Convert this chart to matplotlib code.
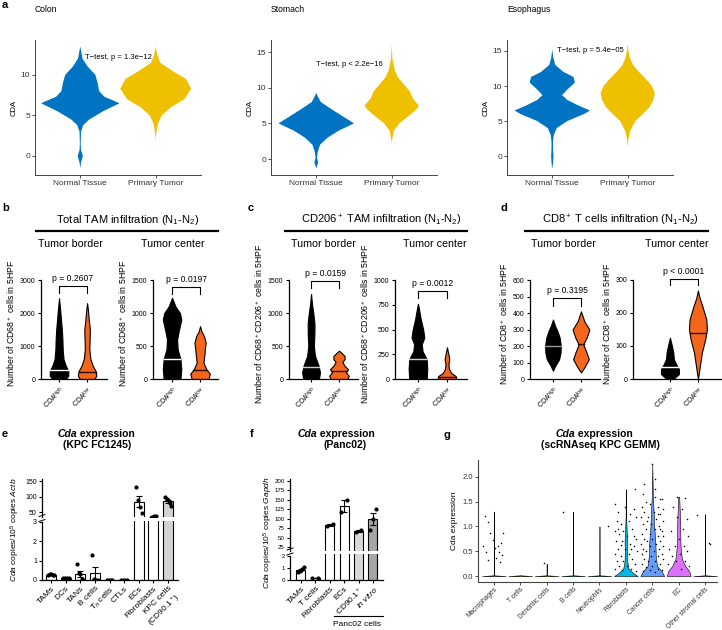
import numpy as np
import matplotlib.pyplot as plt

plt.rcParams['font.family'] = ['Liberation Sans', 'DejaVu Sans']
plt.rcParams['mathtext.fontset'] = 'custom'
plt.rcParams['mathtext.rm'] = 'Liberation Sans'
plt.rcParams['mathtext.it'] = 'Liberation Sans:italic'
plt.rcParams['mathtext.bf'] = 'Liberation Sans:bold'

# ---------------- panel a: violin profiles (y level, half width) ----------------
a_groups = ['Normal Tissue', 'Primary Tumor']
colon_n_y = [-1.5, -0.8, 0, 0.7, 1.5, 3, 3.8, 4.5, 5.5, 6.5, 7.3, 8, 9, 10, 11, 12, 13.5]
colon_n_w = [0, 0.01, 0.035, 0.01, 0.005, 0.01, 0.04, 0.12, 0.3, 0.52, 0.32, 0.25, 0.23, 0.2, 0.1, 0.03, 0]
colon_t_y = [2, 3, 4, 5, 6, 7, 8.3, 9.5, 10.5, 11.5, 12.5, 13.5]
colon_t_w = [0, 0.01, 0.03, 0.08, 0.2, 0.38, 0.47, 0.4, 0.22, 0.06, 0.02, 0]
stom_n_y = [-1.3, -0.5, 0.2, 1, 2, 3, 4, 5, 6, 7, 8, 9, 9.3]
stom_n_w = [0, 0.025, 0.01, 0.02, 0.05, 0.15, 0.3, 0.5, 0.35, 0.2, 0.06, 0.01, 0]
stom_t_y = [2.2, 3, 4, 5, 6, 7, 7.5, 8.5, 9.5, 10.5, 11.5, 12.5, 14, 16]
stom_t_w = [0, 0.01, 0.03, 0.1, 0.22, 0.33, 0.36, 0.28, 0.24, 0.16, 0.08, 0.04, 0.01, 0]
eso_n_y = [-1.8, -1, 0, 1, 2, 3, 4, 5, 6, 6.5, 7.2, 8, 8.7, 9.5, 10.5, 11.3, 12, 13, 14, 15.2]
eso_n_w = [0, 0.01, 0.015, 0.01, 0.01, 0.02, 0.06, 0.2, 0.42, 0.5, 0.35, 0.2, 0.13, 0.2, 0.3, 0.28, 0.15, 0.04, 0.015, 0]
eso_t_y = [1.3, 2.5, 3.5, 5, 6, 7, 8, 9, 10, 11, 12, 13, 14, 15, 16]
eso_t_w = [0, 0.01, 0.03, 0.1, 0.2, 0.29, 0.34, 0.36, 0.32, 0.24, 0.15, 0.07, 0.03, 0.01, 0]
a_titles = ['Colon', 'Stomach', 'Esophagus']
a_pvals = ['T\u2212test, p = 1.3e\u221212', 'T\u2212test, p < 2.2e\u221216', 'T\u2212test, p = 5.4e\u221205']

# ---------------- panels b-d: GraphPad violins ----------------
bd_groups = ['CDA$^{high}$', 'CDA$^{low}$']
b1_hi_y = [0, 100, 250, 400, 600, 900, 1200, 1500, 1800, 2100, 2450]
b1_hi_w = [0.24, 0.33, 0.33, 0.24, 0.16, 0.13, 0.12, 0.1, 0.07, 0.04, 0]
b1_lo_y = [0, 100, 250, 400, 600, 900, 1200, 1500, 1800, 2100, 2300]
b1_lo_w = [0.26, 0.33, 0.3, 0.2, 0.12, 0.08, 0.09, 0.1, 0.06, 0.03, 0]
b1_med = [270, 220]
b2_hi_y = [0, 150, 300, 450, 600, 750, 900, 1000, 1100, 1230]
b2_hi_w = [0.3, 0.33, 0.3, 0.2, 0.18, 0.25, 0.33, 0.28, 0.12, 0]
b2_lo_y = [0, 80, 150, 250, 350, 450, 550, 650, 720, 800]
b2_lo_w = [0.3, 0.35, 0.22, 0.12, 0.15, 0.17, 0.2, 0.14, 0.05, 0]
b2_med = [300, 130]
c1_hi_y = [0, 100, 200, 350, 500, 700, 850, 1000, 1150, 1290]
c1_hi_w = [0.28, 0.32, 0.27, 0.14, 0.1, 0.12, 0.12, 0.08, 0.03, 0]
c1_lo_y = [0, 50, 100, 150, 200, 260, 300, 350, 400, 430]
c1_lo_w = [0.3, 0.35, 0.25, 0.32, 0.2, 0.12, 0.2, 0.2, 0.08, 0]
c1_med = [180, 120]
c2_hi_y = [0, 100, 200, 280, 350, 420, 500, 600, 700, 760]
c2_hi_w = [0.3, 0.32, 0.3, 0.16, 0.13, 0.22, 0.18, 0.1, 0.04, 0]
c2_lo_y = [0, 30, 60, 100, 150, 200, 250, 320]
c2_lo_w = [0.32, 0.3, 0.15, 0.07, 0.05, 0.08, 0.05, 0]
c2_med = [200, 25]
d1_hi_y = [50, 80, 120, 160, 200, 250, 290, 320, 360]
d1_hi_w = [0, 0.08, 0.22, 0.27, 0.28, 0.24, 0.16, 0.08, 0]
d1_lo_y = [40, 70, 120, 160, 210, 250, 300, 350, 410]
d1_lo_w = [0, 0.12, 0.28, 0.2, 0.08, 0.2, 0.3, 0.12, 0]
d1_med = [200, 215]
d2_hi_y = [0, 15, 30, 45, 60, 80, 100, 125]
d2_hi_w = [0.12, 0.32, 0.32, 0.22, 0.14, 0.12, 0.07, 0]
d2_lo_y = [0, 40, 80, 120, 150, 180, 220, 245, 268]
d2_lo_w = [0, 0.07, 0.14, 0.26, 0.32, 0.3, 0.16, 0.06, 0]
d2_med = [35, 138]
bd_pvals = ['p = 0.2607', 'p = 0.0197', 'p = 0.0159', 'p = 0.0012', 'p = 0.3195', 'p < 0.0001']

# ---------------- panel e ----------------
e_cats = ['TAMs', 'DCs', 'TANs', 'B cells', 'T$_h$ cells', 'CTLs', 'ECs', 'Fibroblasts',
          'KPC cells\n(CD90.1$^+$)']
e_pts = [[0.25, 0.3, 0.3, 0.28, 0.25], [0.12, 0.12, 0.12, 0.12], [0.85, 0.35, 0.3, 0.05, 0.02],
         [1.3, 0.05, 0.02, 0.02], [0.02, 0.02, 0.02, 0.02], [0.02, 0.02, 0.02, 0.02],
         [132, 90, 65, 48], [32, 35, 37, 36], [97, 92, 88, 80, 70]]
e_colors = ['white'] * 8 + ['#d3d3d3']

# ---------------- panel f ----------------
f_cats = ['TAMs', 'T cells', 'Fibroblasts', 'ECs', 'CD90.1$^+$', r'$\it{in\ vitro}$']
f_pts = [[0.7, 0.75, 0.85, 0.95, 1.1], [0.2, 0.2], [80, 87], [117, 150], [66, 70], [70, 100, 125]]
f_colors = ['white', 'white', 'white', 'white', '#d9d9d9', '#a6a6a6']

# ---------------- panel g ----------------
g_cats = ['Macrophages', 'T cells', 'Dendritic cells', 'B cells', 'Neutrophils', 'Fibroblasts',
          'Cancer cells', 'EC', 'Other stromal cells']
g_colors = ['#F8766D', '#D39200', '#93AA00', '#00BA38', '#00C19F', '#00B9E3', '#619CFF', '#DB72FB', '#FF61C3']
g_prof_y = [[0, 0.015, 0.05, 1.3], [0, 0.015, 0.02], [0, 0.015, 0.05, 0.25], [0, 0.015, 0.05, 1.3],
            [0, 0.015, 0.05, 1.0], [0, 0.05, 0.15, 0.3, 0.5, 0.7, 0.9, 1.2, 1.75],
            [0, 0.1, 0.2, 0.4, 0.6, 0.8, 1.0, 1.3, 1.6, 2.25],
            [0, 0.1, 0.2, 0.35, 0.6, 0.8, 1.0, 1.3, 1.6, 1.6], [0, 0.015, 0.05, 1.25]]
g_prof_w = [[0.45, 0.01, 0.004, 0], [0.45, 0.01, 0], [0.45, 0.01, 0.004, 0], [0.45, 0.01, 0.004, 0],
            [0.45, 0.01, 0.004, 0], [0.45, 0.3, 0.1, 0.05, 0.04, 0.05, 0.03, 0.01, 0],
            [0.45, 0.35, 0.18, 0.13, 0.12, 0.1, 0.07, 0.05, 0.02, 0],
            [0.45, 0.4, 0.25, 0.12, 0.07, 0.06, 0.06, 0.04, 0.02, 0], [0.45, 0.01, 0.004, 0]]
mac_pts = [(-0.35, 1.21), (-0.23, 1.08), (-0.13, 0.86), (-0.41, 0.6), (-0.31, 0.49), (-0.23, 0.32),
           (-0.04, 0.73), (0.04, 0.56), (0.15, 0.6), (0.21, 0.49), (0.28, 0.66), (0.31, 0.42),
           (0.36, 0.86), (0.09, 0.36), (0.24, 0.29)]
dc_pts = [(-0.09, 0.26)]
bc_pts = [(-0.38, 1.3)]
neu_pts = [(0.31, 1.0)]
fib_pts = [(-0.4, 1.45), (-0.3, 1.3), (0.35, 1.75), (0.3, 1.35), (-0.35, 1.1), (-0.2, 1.05), (0.1, 1.1),
           (0.4, 1.2), (-0.42, 0.9), (-0.25, 0.85), (-0.1, 0.9), (0.05, 0.8), (0.22, 0.95), (0.38, 0.75),
           (-0.38, 0.7), (-0.15, 0.7), (0.15, 0.65), (0.3, 0.6), (-0.3, 0.55), (-0.05, 0.55), (0.42, 0.5),
           (-0.42, 0.45), (-0.2, 0.4), (0.1, 0.45), (0.25, 0.35), (-0.35, 0.3), (-0.1, 0.3), (0.35, 0.25),
           (-0.25, 0.2), (0.05, 0.2), (0.2, 0.15), (-0.4, 0.15), (0.4, 0.1), (-0.15, 0.12), (0.3, 0.8),
           (-0.3, 0.95), (0.15, 1.25), (-0.05, 1.4), (0.2, 0.55), (-0.2, 0.62)]
can_pts = [(0.0, 2.25), (0.1, 1.95), (-0.35, 1.65), (0.3, 1.55), (0.38, 1.55), (-0.25, 1.5), (0.1, 1.6),
           (-0.4, 1.4), (-0.1, 1.45), (0.2, 1.4), (0.42, 1.35), (-0.3, 1.3), (0.05, 1.3), (0.3, 1.25),
           (-0.42, 1.2), (-0.15, 1.2), (0.15, 1.15), (0.4, 1.1), (-0.35, 1.05), (-0.05, 1.05), (0.25, 1.0),
           (-0.25, 0.95), (0.1, 0.95), (0.35, 0.9), (-0.4, 0.85), (-0.1, 0.85), (0.2, 0.8), (0.42, 0.8),
           (-0.3, 0.75), (0.0, 0.75), (0.3, 0.7), (-0.2, 0.7), (-0.42, 0.65), (0.15, 0.65), (0.4, 0.6),
           (-0.1, 0.6), (-0.35, 0.55), (0.25, 0.55), (0.05, 0.5), (-0.25, 0.5), (0.35, 0.45), (-0.4, 0.45),
           (-0.05, 0.4), (0.2, 0.4), (-0.3, 0.35), (0.42, 0.35), (0.1, 0.3), (-0.15, 0.3), (0.3, 0.25),
           (-0.4, 0.25), (0.0, 0.2), (-0.25, 0.18), (0.2, 0.15), (0.38, 0.12), (-0.35, 0.1), (0.1, 0.08),
           (-0.1, 0.12), (0.28, 0.95), (-0.2, 1.1), (0.12, 1.75), (-0.32, 1.85), (0.22, 1.25)]
ec_pts = [(-0.2, 1.4), (0.12, 1.35), (0.3, 1.15), (-0.05, 1.2), (0.15, 0.95), (-0.3, 0.9), (0.35, 0.8),
          (0.0, 0.75), (-0.15, 0.6), (0.2, 0.6), (-0.35, 0.55), (0.3, 0.5), (0.05, 0.45), (-0.25, 0.4),
          (0.25, 0.3), (-0.1, 0.3), (0.4, 0.2), (-0.4, 0.25), (0.1, 0.15), (-0.05, 1.6), (0.25, 1.58)]
oth_pts = [(-0.31, 1.23), (0.13, 0.66), (0.2, 0.65)]

W, H = 722, 630
fig = plt.figure(figsize=(W / 100, H / 100), dpi=100)


def px_ax(x0, y0, x1, y1):
    return fig.add_axes([x0 / W, 1 - y1 / H, (x1 - x0) / W, (y1 - y0) / H])


def ftext(x, y, s, **kw):
    fig.text(x / W, 1 - y / H, s, **kw)


def fline(xs, ys, lw=1.5):
    fig.add_artist(plt.Line2D([x / W for x in xs], [1 - y / H for y in ys], color='black', lw=lw))


def violin(ax, pos, ys, ws, color, edge='none', lw=0.0):
    ys = np.asarray(ys, float)
    ws = np.asarray(ws, float)
    ax.fill_betweenx(ys, pos - ws, pos + ws, facecolor=color, edgecolor=edge, lw=lw, zorder=2)


# ---------------- panel a ----------------
a_boxes = [(35, 201), (271, 437), (507, 673)]
a_ylims = [(-2.35, 14.3), (-2.24, 16.7), (-2.71, 16.57)]
a_yticks = [[0, 5, 10], [0, 5, 10, 15], [0, 5, 10, 15]]
a_ptxt = [(1.5, 12.2), (1.44, 13.2), (1.5, 15.1)]
a_profiles = [(colon_n_y, colon_n_w, colon_t_y, colon_t_w), (stom_n_y, stom_n_w, stom_t_y, stom_t_w),
              (eso_n_y, eso_n_w, eso_t_y, eso_t_w)]
for i in range(3):
    x0, x1 = a_boxes[i]
    ax = px_ax(x0, 40, x1, 175)
    ny, nw, ty, tw = a_profiles[i]
    violin(ax, 1, ny, nw, '#0073C2')
    violin(ax, 2, ty, tw, '#EFC000')
    ax.set_xlim(0.4, 2.6)
    ax.set_ylim(*a_ylims[i])
    ax.set_xticks([1, 2])
    ax.set_xticklabels(a_groups, fontsize=6, color='#333333')
    ax.set_yticks(a_yticks[i])
    ax.tick_params(labelsize=6, length=2, width=0.6, colors='#333333', pad=1.5)
    for s in ['top', 'right']:
        ax.spines[s].set_visible(False)
    for s in ['left', 'bottom']:
        ax.spines[s].set_color('#444444')
        ax.spines[s].set_linewidth(0.7)
    ax.set_ylabel('CDA', fontsize=5.5, labelpad=2)
    ax.text(a_ptxt[i][0], a_ptxt[i][1], a_pvals[i], ha='center', va='center', fontsize=5.5)
    ftext(x0, 10, a_titles[i], fontsize=6.2, va='center')
ftext(2, 5, 'a', fontsize=8, fontweight='bold', va='center')

# ---------------- panels b-d ----------------
bd_axes = [(41, 107, 0.357, 2.71, 3364, [0, 1000, 2000, 3000]),
           (153, 218, 0.32, 2.64, 1682, [0, 500, 1000, 1500]),
           (289, 358, 0.21, 2.68, 1684, [0, 500, 1000, 1500]),
           (395, 467, 0.21, 2.69, 1122, [0, 250, 500, 750, 1000]),
           (530, 600, 0.18, 2.68, 673, [0, 100, 200, 300, 400, 500, 600]),
           (633, 722, -0.32, 2.86, 336, [0, 100, 200, 300])]
bd_prof = [(b1_hi_y, b1_hi_w, b1_lo_y, b1_lo_w, b1_med), (b2_hi_y, b2_hi_w, b2_lo_y, b2_lo_w, b2_med),
           (c1_hi_y, c1_hi_w, c1_lo_y, c1_lo_w, c1_med), (c2_hi_y, c2_hi_w, c2_lo_y, c2_lo_w, c2_med),
           (d1_hi_y, d1_hi_w, d1_lo_y, d1_lo_w, d1_med), (d2_hi_y, d2_hi_w, d2_lo_y, d2_lo_w, d2_med)]
bd_brackets = [(2818, 2606), (1394, 1288), (1484, 1378), (888, 816), (491, 442), (303, 285)]
bd_medcol = ['white', 'white', '#cfcfcf', '#cfcfcf', '#9a9a9a', 'white']
bd_ylabels = ['Number of CD68$^+$ cells in 5HPF'] * 2 + ['Number of CD68$^+$CD206$^+$ cells in 5HPF'] * 2 + \
             ['Number of CD8$^+$ cells in 5HPF'] * 2
for i in range(6):
    x0, x1, xl0, xl1, ytop, yt = bd_axes[i]
    ax = px_ax(x0, 268, x1, 379)
    hy, hw, ly, lw_, med = bd_prof[i]
    violin(ax, 1, hy, hw, 'black', 'black', 0.8)
    violin(ax, 2, ly, lw_, '#F4661B', 'black', 0.8)
    mw = np.interp(med[0], hy, hw)
    ax.plot([1 - mw, 1 + mw], [med[0], med[0]], color=bd_medcol[i], lw=1.0, zorder=3)
    mw = np.interp(med[1], ly, lw_)
    ax.plot([2 - mw, 2 + mw], [med[1], med[1]], color='#2a0a00', lw=1.0, zorder=3)
    ax.set_xlim(xl0, xl1)
    ax.set_ylim(0, ytop)
    ax.set_yticks(yt)
    ax.spines['left'].set_bounds(0, yt[-1])
    for s in ['top', 'right']:
        ax.spines[s].set_visible(False)
    for s in ['left', 'bottom']:
        ax.spines[s].set_linewidth(0.9)
    ax.set_xticks([1, 2])
    ax.set_xticklabels(bd_groups, rotation=45, ha='right', rotation_mode='anchor', fontsize=6.2)
    ax.tick_params(labelsize=5, length=2.5, width=0.8, pad=1.5)
    ax.set_ylabel(bd_ylabels[i], fontsize=6.3, labelpad=2)
    by, bdrop = bd_brackets[i]
    ax.plot([1, 1, 2, 2], [bdrop, by, by, bdrop], color='black', lw=0.8, clip_on=False)
    ax.text(1.5, by + ytop * 0.025, bd_pvals[i], ha='center', va='bottom', fontsize=6.2, clip_on=False)

heads = [(128, 36, 218, 70, 173, 'Total TAM infiltration (N$_1$-N$_2$)'),
         (381, 285, 467, 323, 435, 'CD206$^+$ TAM infiltration (N$_1$-N$_2$)'),
         (620, 525, 708, 563, 677, 'CD8$^+$ T cells infiltration (N$_1$-N$_2$)')]
for cx, l0, l1, t1, t2, s in heads:
    ftext(cx, 220, s, fontsize=8, ha='center', va='center')
    fline([l0, l1], [230.5, 230.5], lw=1.6)
    ftext(t1, 244, 'Tumor border', fontsize=7.7, ha='center', va='center')
    ftext(t2, 244, 'Tumor center', fontsize=7.7, ha='center', va='center')
ftext(2, 208, 'b', fontsize=8, fontweight='bold', va='center')
ftext(248, 208, 'c', fontsize=8, fontweight='bold', va='center')
ftext(500, 208, 'd', fontsize=8, fontweight='bold', va='center')


# ---------------- panels e, f: broken-axis bars ----------------
def broken_bars(x0, x1, xl, up, lo, cats, pts, colors, up_lim, lo_lim, up_ticks, lo_ticks, bw, tfs):
    axu = px_ax(x0, up[0], x1, up[1])
    axl = px_ax(x0, lo[0], x1, lo[1])
    xs = np.arange(len(cats))
    for ax in (axu, axl):
        for j, p in enumerate(pts):
            p = np.asarray(p, float)
            m = p.mean()
            se = p.std(ddof=1) / np.sqrt(len(p))
            ax.bar(xs[j], m, width=bw, color=colors[j], edgecolor='black', lw=0.8, zorder=1)
            ax.errorbar(xs[j], m, yerr=se, fmt='none', ecolor='black', elinewidth=0.8, capsize=2,
                        capthick=0.8, zorder=2)
            off = np.linspace(-0.2, 0.2, len(p)) if len(p) > 1 else np.zeros(1)
            ax.scatter(xs[j] + off, p, s=9, color='black', zorder=3, lw=0)
        ax.set_xlim(*xl)
        for s in ['top', 'right']:
            ax.spines[s].set_visible(False)
        ax.spines['left'].set_linewidth(0.9)
        ax.tick_params(labelsize=tfs, length=2.5, width=0.8, pad=1.2)
    axu.set_ylim(*up_lim)
    axl.set_ylim(*lo_lim)
    axu.set_yticks(up_ticks)
    axl.set_yticks(lo_ticks)
    axu.spines['bottom'].set_visible(False)
    axu.set_xticks([])
    axl.spines['bottom'].set_linewidth(0.9)
    axl.spines['left'].set_bounds(0, lo_ticks[-1])
    axl.set_xticks(xs)
    axl.set_xticklabels(cats, rotation=45, ha='right', rotation_mode='anchor', fontsize=6)
    # small break marks on the y axis
    gap = (up[1] + lo[0]) / 2
    fline([x0 - 3, x0 + 3], [gap - 2.5, gap - 4.5], lw=0.7)
    fline([x0 - 3, x0 + 3], [gap + 2.5, gap + 0.5], lw=0.7)
    return axu, axl


broken_bars(42, 178, (-0.62, 8.68), (479, 517), (521, 580), e_cats, e_pts, e_colors,
            (33.9, 156.5), (0, 3.05), [50, 100, 150], [0, 1, 2, 3], 0.68, 5)
ftext(15, 530, r'$\it{Cda}$ copies/10$^5$ copies $\it{Actb}$', fontsize=6, rotation=90, ha='center', va='center')
ftext(77, 434, 'Cda', fontsize=7.5, fontweight='bold', fontstyle='italic', ha='right', va='center')
ftext(77, 434, ' expression', fontsize=7.5, fontweight='bold', ha='left', va='center')
ftext(97, 445, '(KPC FC1245)', fontsize=7.5, fontweight='bold', ha='center', va='center')
ftext(2, 434, 'e', fontsize=8, fontweight='bold', va='center')

broken_bars(290, 383, (-0.76, 5.7), (479, 551), (554, 580), f_cats, f_pts, f_colors,
            (14.4, 205), (0, 2.17), [25, 50, 75, 100, 125, 150, 175, 200], [0, 1, 2], 0.63, 4.4)
ftext(268, 533, r'$\it{Cda}$ copies/10$^5$ copies $\it{Gapdh}$', fontsize=6, rotation=90, ha='center', va='center')
ftext(317, 434, 'Cda', fontsize=7.5, fontweight='bold', fontstyle='italic', ha='right', va='center')
ftext(317, 434, ' expression', fontsize=7.5, fontweight='bold', ha='left', va='center')
ftext(345, 445, '(Panc02)', fontsize=7.5, fontweight='bold', ha='center', va='center')
fline([334, 383], [616, 616], lw=0.8)
ftext(357, 624, 'Panc02 cells', fontsize=6, ha='center', va='center')
ftext(250, 434, 'f', fontsize=8, fontweight='bold', va='center')

# ---------------- panel g ----------------
ax = px_ax(478, 460, 717, 582)
g_pts = [mac_pts, [], dc_pts, bc_pts, neu_pts, fib_pts, can_pts, ec_pts, oth_pts]
for j in range(len(g_cats)):
    violin(ax, j, g_prof_y[j], g_prof_w[j], g_colors[j], 'black', 0.4)
    if g_pts[j]:
        p = np.asarray(g_pts[j])
        ax.scatter(j + p[:, 0], p[:, 1], s=1.2, color='black', lw=0, zorder=3)
ax.set_xlim(-0.6, 8.45)
ax.set_ylim(-0.12, 2.34)
ax.set_yticks([0, 0.5, 1.0, 1.5, 2.0])
ax.set_yticklabels(['0.0', '0.5', '1.0', '1.5', '2.0'])
ax.set_xticks(range(len(g_cats)))
ax.set_xticklabels(g_cats, rotation=45, ha='right', rotation_mode='anchor', fontsize=4.8)
ax.tick_params(axis='y', labelsize=5.5, length=2, width=0.6, colors='#333333', pad=1.5)
ax.tick_params(axis='x', length=2, width=0.6, colors='#333333', pad=0.8)
for s in ['top', 'right']:
    ax.spines[s].set_visible(False)
for s in ['left', 'bottom']:
    ax.spines[s].set_color('#444444')
    ax.spines[s].set_linewidth(0.8)
ax.set_ylabel('Cda expression', fontsize=6, labelpad=3)
ftext(575, 434, 'Cda', fontsize=7.5, fontweight='bold', fontstyle='italic', ha='right', va='center')
ftext(575, 434, ' expression', fontsize=7.5, fontweight='bold', ha='left', va='center')
ftext(600, 445, '(scRNAseq KPC GEMM)', fontsize=7.5, fontweight='bold', ha='center', va='center')
ftext(443, 435, 'g', fontsize=8, fontweight='bold', va='center')

fig.savefig('out.png', dpi=100)
